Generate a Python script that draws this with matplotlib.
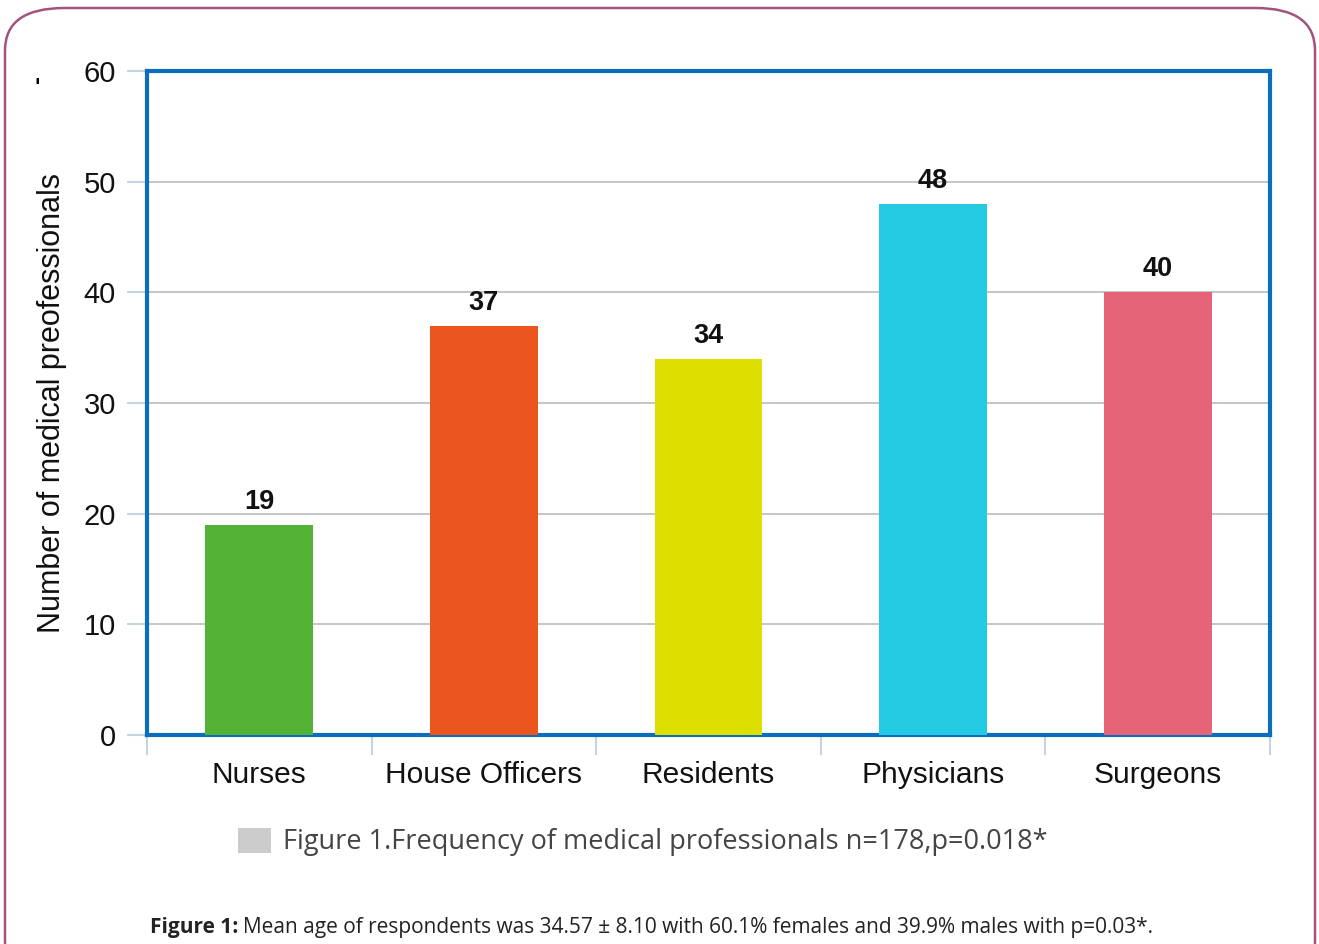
import matplotlib
matplotlib.use("Agg")
import matplotlib.pyplot as plt
from matplotlib.patches import FancyBboxPatch, Rectangle

categories = ["Nurses", "House Officers", "Residents", "Physicians", "Surgeons"]
values = [19, 37, 34, 48, 40]
colors = ["#52B236", "#EA561E", "#DDDF00", "#24C9E2", "#E56477"]
yticks = [0, 10, 20, 30, 40, 50, 60]

W, H = 1319, 944
fig = plt.figure(figsize=(W / 100, H / 100), dpi=100)
fig.patch.set_facecolor("white")

# rounded outer border
border = FancyBboxPatch((5 / W, -40 / H), 1310 / W, (944 - 8 + 40) / H,
                        boxstyle="round,pad=0,rounding_size=0.045",
                        transform=fig.transFigure, fill=False,
                        edgecolor="#A4527F", linewidth=1.8)
fig.patches.append(border)

ax_l, ax_r, ax_t, ax_b = 147, 1270, 71, 735
ax = fig.add_axes([ax_l / W, 1 - ax_b / H, (ax_r - ax_l) / W, (ax_b - ax_t) / H])

x = list(range(len(categories)))
ax.bar(x, values, width=0.48, color=colors, zorder=3)
for xi, v in zip(x, values):
    ax.text(xi, v + 0.9, str(v), ha="center", va="bottom", fontsize=19.5,
            fontweight="bold", family="Liberation Sans", color="#111111", zorder=4)

ax.set_xlim(-0.5, 4.5)
ax.set_ylim(0, 60)
ax.set_yticks(yticks)
ax.set_yticklabels([str(t) for t in yticks], fontsize=21, family="Liberation Sans", color="#111111")
ax.yaxis.grid(True, color="#BBBBBB", linewidth=1.2, zorder=0)
ax.set_axisbelow(True)
ax.tick_params(axis="y", length=14.4, width=1.5, color="#C5D3E3", pad=8)

# category separators as minor ticks
ax.set_xticks([i + 0.5 for i in range(-1, 5)], minor=True)
ax.set_xticks(x)
ax.set_xticklabels(categories, fontsize=21.5, family="Liberation Sans", color="#111111")
ax.tick_params(axis="x", which="major", length=0, pad=19)
ax.tick_params(axis="x", which="minor", length=14.4, width=1.5, color="#C5D3E3")

for s in ax.spines.values():
    s.set_color("#0A6EBD")
    s.set_linewidth(3)

ax.set_ylabel("Number of medical preofessionals", fontsize=22, family="Liberation Sans",
              color="#111111", labelpad=12)

# small stray mark
fig.text(37 / W, 1 - 79 / H, "-", rotation=90, fontsize=14, fontweight="bold",
         ha="center", va="center", color="black")

# legend-like box
fig.patches.append(Rectangle((238 / W, 1 - 853 / H), 33 / W, 25 / H,
                             transform=fig.transFigure, facecolor="#CCCCCC", edgecolor="none"))
fig.text(283 / W, 1 - 842 / H, "Figure 1.Frequency of medical professionals n=178,p=0.018*",
         fontsize=19.5, family="Open Sans", color="#444444", ha="left", va="center")

# caption
cap_y = 1 - 927 / H
t1 = fig.text(150 / W, cap_y, "Figure 1:", fontsize=15, fontweight="bold",
              family="Open Sans", color="#222222", ha="left", va="center")
fig.canvas.draw()
bb = t1.get_window_extent()
fig.text((bb.x1 + 5) / W, cap_y,
         "Mean age of respondents was 34.57 \u00b1 8.10 with 60.1% females and 39.9% males with p=0.03*.",
         fontsize=15, family="Open Sans", color="#222222", ha="left", va="center")

fig.savefig("out.png", dpi=100)
